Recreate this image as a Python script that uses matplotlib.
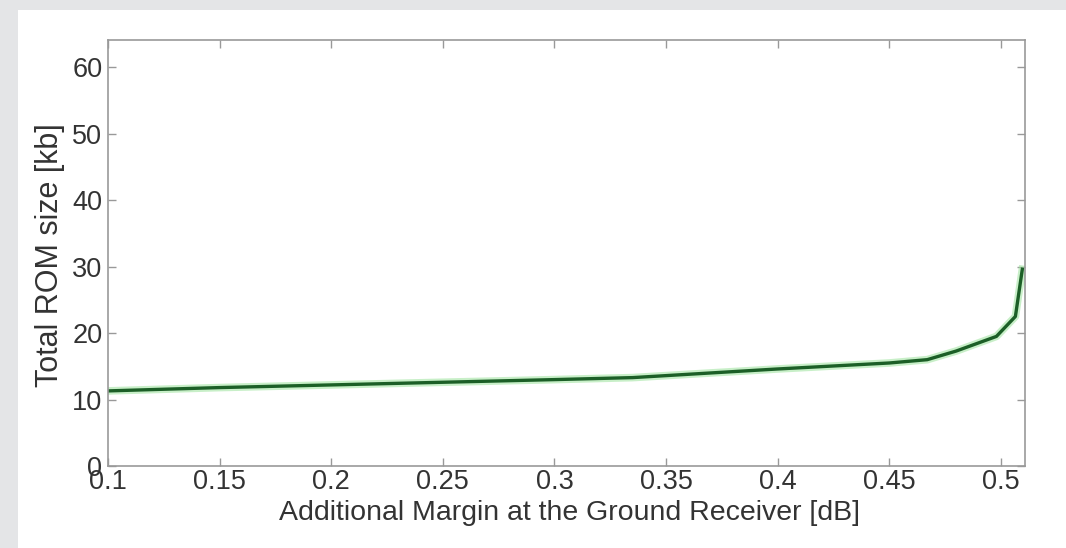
import matplotlib
matplotlib.use("Agg")
import matplotlib.pyplot as plt
from matplotlib.patches import Rectangle

# Additional margin [dB] vs total ROM size [kb]
margin_db = [0.100, 0.150, 0.200, 0.250, 0.300, 0.335, 0.350, 0.400,
             0.450, 0.467, 0.480, 0.498, 0.5065, 0.5096]
rom_kb = [11.3, 11.8, 12.2, 12.6, 13.0, 13.3, 13.6, 14.6,
          15.5, 16.0, 17.3, 19.5, 22.5, 29.6]

xticks = [0.1, 0.15, 0.2, 0.25, 0.3, 0.35, 0.4, 0.45, 0.5]
xtick_labels = ["0.1", "0.15", "0.2", "0.25", "0.3", "0.35", "0.4", "0.45", "0.5"]
yticks = [0, 10, 20, 30, 40, 50, 60]

plt.rcParams["font.family"] = ["Liberation Sans", "DejaVu Sans"]

W, H = 1066, 548
fig = plt.figure(figsize=(W / 100, H / 100), dpi=100)
fig.patch.set_facecolor("#e4e5e7")

# white page area behind the plot
fig.patches.append(Rectangle((18 / W, 0), 1 - 18 / W, 1 - 10 / H,
                             transform=fig.transFigure, facecolor="white",
                             edgecolor="none", zorder=-10))

ax = fig.add_axes([108 / W, (H - 466) / H, (1025 - 108) / W, (466 - 40) / H])
ax.set_zorder(1)
ax.set_facecolor("white")

# soft halo under the curve, then the curve itself
ax.plot(margin_db, rom_kb, color="#9be39b", lw=5.5, alpha=0.55, solid_joinstyle="round")
ax.plot(margin_db, rom_kb, color="#1c5f27", lw=2.4, solid_joinstyle="round")

ax.set_xlim(0.1, 0.5108)
ax.set_ylim(0, 64.1)
ax.set_xticks(xticks)
ax.set_xticklabels(xtick_labels)
ax.set_yticks(yticks)

for s in ax.spines.values():
    s.set_color("#999999")
    s.set_linewidth(1.2)
ax.tick_params(direction="in", length=6, width=1, color="#999999",
               top=True, right=True, labelsize=19.5, labelcolor="#333333")
ax.tick_params(axis="x", pad=2)
ax.tick_params(axis="y", pad=4)

ax.set_xlabel("Additional Margin at the Ground Receiver [dB]", fontsize=20.5,
              color="#333333", va="center")
ax.xaxis.set_label_coords(0.503, -0.11)
ax.set_ylabel("Total ROM size [kb]", fontsize=22, color="#333333", va="center")
ax.yaxis.set_label_coords(-0.063, 0.495)

fig.savefig("out.png", dpi=100, facecolor=fig.get_facecolor())
